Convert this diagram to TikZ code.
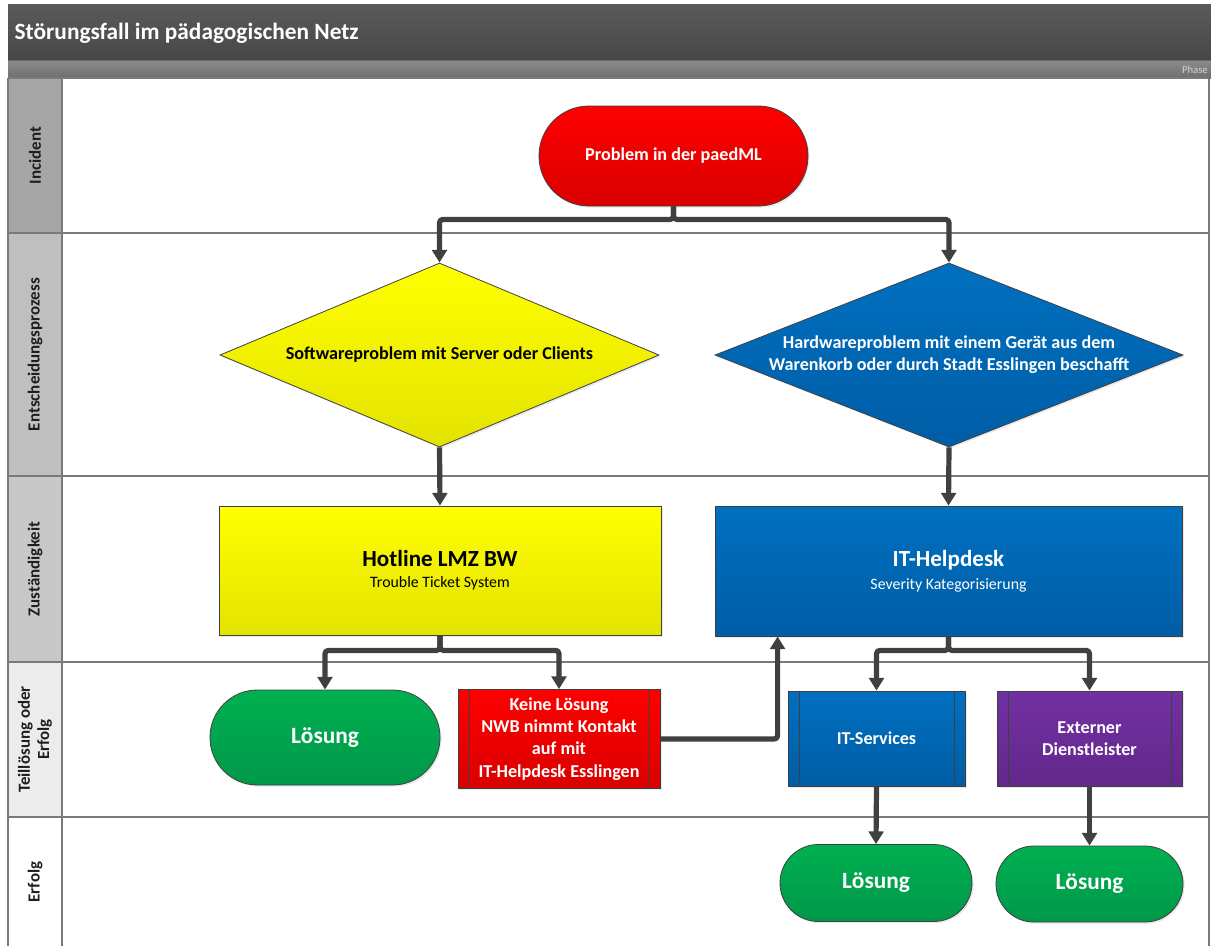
\documentclass[tikz,border=0pt]{standalone}
\usepackage{fontspec}
\setmainfont{Carlito}
\usetikzlibrary{arrows.meta,calc,shapes.geometric,shadows}
\definecolor{titletop}{HTML}{5A5A5A}
\definecolor{titlebot}{HTML}{474747}
\definecolor{phasetop}{HTML}{8C8C8C}
\definecolor{phasebot}{HTML}{6E6E6E}
\definecolor{phasetext}{HTML}{D4D4D4}
\definecolor{laneA}{HTML}{A6A6A6}
\definecolor{laneB}{HTML}{BFBFBF}
\definecolor{laneC}{HTML}{C8C8C8}
\definecolor{laneD}{HTML}{ECECEC}
\definecolor{laneE}{HTML}{FFFFFF}
\definecolor{laneline}{HTML}{7A7A7A}
\definecolor{edgecol}{HTML}{404040}
\definecolor{redtop}{HTML}{FF0000}
\definecolor{redbot}{HTML}{DA0000}
\definecolor{yeltop}{HTML}{FFFF00}
\definecolor{yelbot}{HTML}{E3E300}
\definecolor{bluetop}{HTML}{0070C0}
\definecolor{bluebot}{HTML}{005DA6}
\definecolor{greentop}{HTML}{00B050}
\definecolor{greenbot}{HTML}{00984A}
\definecolor{purtop}{HTML}{7230A2}
\definecolor{purbot}{HTML}{62288C}
\definecolor{labeltext}{HTML}{1E1E1E}
\tikzset{
  sz/.style 2 args={minimum width=#1*0.75pt, minimum height=#2*0.75pt},
  shape base/.style={draw=edgecol, line width=0.6pt, inner sep=0pt,
    drop shadow={opacity=0.18, shadow xshift=1.2pt, shadow yshift=-1.2pt}},
  redfill/.style={top color=redtop, bottom color=redbot},
  yelfill/.style={top color=yeltop, bottom color=yelbot},
  bluefill/.style={top color=bluetop, bottom color=bluebot},
  greenfill/.style={top color=greentop, bottom color=greenbot},
  purfill/.style={top color=purtop, bottom color=purbot},
  termbox/.style={shape base, rectangle},
  decisionbox/.style={shape base, diamond},
  procbox/.style={shape base, rectangle},
  subproc/.style={shape base, rectangle},
  midtext/.style={font=\bfseries\fontsize{13.6}{16.6}\selectfont, align=center},
  bigtext/.style={font=\bfseries\fontsize{17.5}{20}\selectfont, align=center},
  lanelabel/.style={rotate=90, font=\bfseries\fontsize{12.7}{14.5}\selectfont, text=labeltext, align=center},
  laneline/.style={draw=laneline, line width=0.9pt},
  conn/.style={draw=edgecol, line width=3.9pt, rounded corners=2.5pt, line join=round,
    -{Triangle[width=11pt,length=9.5pt]}},
}
\begin{document}
\begin{tikzpicture}[x=0.75pt,y=-0.75pt]
\useasboundingbox (0,0) rectangle (1211,946);
\fill[white] (0,0) rectangle (1211,946);

% title and phase bars
\shade[top color=titletop, bottom color=titlebot] (8,4) rectangle (1211,60);
\node[anchor=west, text=white, font=\bfseries\fontsize{17.5}{20}\selectfont] (title) at (10,33) {Störungsfall im pädagogischen Netz};
\shade[top color=phasetop, bottom color=phasebot] (8,60) rectangle (1211,78);
\node[anchor=east, text=phasetext, font=\fontsize{8}{9}\selectfont, inner sep=0pt] (phase) at (1208,70) {Phase};
\draw[edgecol!80, line width=0.6pt] (8,60) -- (1211,60);

% lane headers
\fill[laneA] (8,78) rectangle (62,233);
\fill[laneB] (8,233) rectangle (62,476);
\fill[laneC] (8,476) rectangle (62,662);
\fill[laneD] (8,662) rectangle (62,817);
\fill[laneE] (8,817) rectangle (62,946);
\draw[laneline] (8,78) -- (1209,78);
\draw[laneline] (8,233) -- (1209,233);
\draw[laneline] (8,476) -- (1209,476);
\draw[laneline] (8,662) -- (1209,662);
\draw[laneline] (8,817) -- (1209,817);
\draw[laneline] (8,78) -- (8,946);
\draw[laneline] (62,78) -- (62,946);
\draw[laneline] (1209,78) -- (1209,946);

\node[lanelabel] (lane1) at (35,155.5) {Incident};
\node[lanelabel] (lane2) at (35,354.5) {Entscheidungsprozess};
\node[lanelabel] (lane3) at (35,569) {Zuständigkeit};
\node[lanelabel] (lane4) at (35,739.5) {Teillösung oder\\Erfolg};
\node[lanelabel] (lane5) at (35,882) {Erfolg};

% nodes
\node[termbox, redfill, sz={269}{100}, rounded corners=37.4pt, midtext, text=white] (prob) at (673.5,156) {Problem in der paedML};

\node[decisionbox, yelfill, sz={439}{184}] (dsw) at (439.5,355) {};
\node[midtext, text=black] (dswt) at (dsw.center) {Softwareproblem mit Server oder Clients};
\node[decisionbox, bluefill, sz={468}{184}] (dhw) at (949,355) {};
\node[midtext, text=white] (dhwt) at (dhw.center) {Hardwareproblem mit einem Gerät aus dem\\Warenkorb oder durch Stadt Esslingen beschafft};

\node[procbox, yelfill, sz={442}{129}, align=center, text=black] (hot) at (440,570.5)
  {{\bfseries\fontsize{17.3}{20}\selectfont Hotline LMZ BW}\\[4pt]{\fontsize{11.9}{14}\selectfont Trouble Ticket System}};
\node[procbox, bluefill, sz={467}{130}, align=center, text=white] (help) at (948.5,571)
  {{\bfseries\fontsize{17.3}{20}\selectfont IT-Helpdesk}\\[5pt]{\fontsize{11.9}{14}\selectfont Severity Kategorisierung}};

\node[termbox, greenfill, sz={230}{95}, rounded corners=35.5pt, bigtext, text=white] (los1) at (325,737.5) {Lösung};
\node[subproc, redfill, sz={202}{99}, midtext, text=white] (kl) at (559,739) {Keine Lösung\\NWB nimmt Kontakt\\auf mit\\IT-Helpdesk Esslingen};
\node[subproc, bluefill, sz={177}{95}, midtext, text=white] (its) at (876.5,738.5) {IT-Services};
\node[subproc, purfill, sz={185}{95}, midtext, text=white] (ext) at (1089.5,738.5) {Externer\\Dienstleister};

\node[termbox, greenfill, sz={192}{77}, rounded corners=28.8pt, bigtext, text=white] (los2) at (876,883) {Lösung};
\node[termbox, greenfill, sz={187}{76}, rounded corners=28.4pt, bigtext, text=white] (los3) at (1089.5,884) {Lösung};

% subprocess inner lines
\foreach \n in {kl,its,ext}{
  \draw[edgecol, line width=0.6pt] ($(\n.north west)+(12,0)$) -- ($(\n.south west)+(12,0)$);
  \draw[edgecol, line width=0.6pt] ($(\n.north east)+(-11,0)$) -- ($(\n.south east)+(-11,0)$);
}

% connectors
\coordinate (helpin) at ($(help.south west)+(63,0)$);
\draw[conn] (prob.south) -- ++(0,13) -| (dsw.north);
\draw[conn] (prob.south) -- ++(0,13) -| (dhw.north);
\draw[conn] (dsw.south) -- (hot.north);
\draw[conn] (dhw.south) -- (help.north);
\draw[conn] (hot.south) -- ++(0,15) -| (los1.north);
\draw[conn] (hot.south) -- ++(0,15) -| (kl.north);
\draw[conn] (kl.east) -| (helpin);
\draw[conn] (help.south) -- ++(0,14) -| (its.north);
\draw[conn] (help.south) -- ++(0,14) -| (ext.north);
\draw[conn] (its.south) -- (los2.north);
\draw[conn] (ext.south) -- (los3.north);
\end{tikzpicture}
\end{document}
